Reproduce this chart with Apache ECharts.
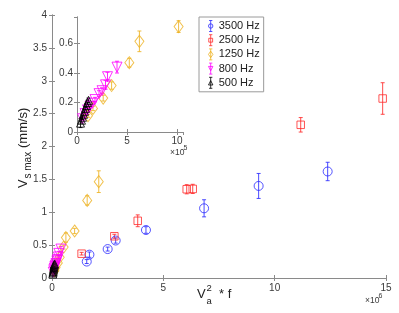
<!DOCTYPE html>
<html><head><meta charset="utf-8">
<script src="https://cdn.jsdelivr.net/npm/echarts@6/dist/echarts.min.js"></script>
<style>html,body{margin:0;padding:0;background:#fff}#c{width:399px;height:313px}</style>
</head><body><div id="c"></div><script>
// ---- data (x = Va^2 * f, y = Vs max in mm/s, e = error half-length) ----
const seriesNames = ['3500 Hz', '2500 Hz', '1250 Hz', '800 Hz', '500 Hz'];
const x3500 = [1.56e6, 1.68e6, 2.5e6, 2.86e6, 4.22e6, 6.83e6, 9.28e6, 12.38e6];
const y3500 = [0.25, 0.355, 0.44, 0.57, 0.73, 1.06, 1.40, 1.62];
const e3500 = [0.03, 0.04, 0.03, 0.04, 0.05, 0.13, 0.19, 0.14];
const x2500 = [1.33e6, 2.8e6, 3.85e6, 6.05e6, 6.32e6, 11.17e6, 14.85e6];
const y2500 = [0.37, 0.635, 0.87, 1.35, 1.355, 2.33, 2.73];
const e2500 = [0.02, 0.03, 0.09, 0.07, 0.07, 0.11, 0.24];
const x1250 = [1.1e5, 1.6e5, 2.62e5, 3.46e5, 5.23e5, 6.24e5, 10.16e5, 15.8e5, 21.0e5];
const y1250 = [0.11, 0.16, 0.23, 0.315, 0.47, 0.615, 0.715, 1.18, 1.465];
const e1250 = [0.01, 0.015, 0.02, 0.025, 0.03, 0.07, 0.04, 0.07, 0.165];
const x800 = [0.55e5, 0.8e5, 1.05e5, 1.3e5, 1.55e5, 1.8e5, 2.2e5, 2.5e5, 2.85e5, 3.05e5, 4.0e5];
const y800 = [0.09, 0.125, 0.15, 0.175, 0.195, 0.22, 0.26, 0.28, 0.32, 0.375, 0.44];
const e800 = [0.01, 0.01, 0.01, 0.01, 0.01, 0.015, 0.02, 0.02, 0.03, 0.03, 0.04];
const x500 = [0.35e5, 0.45e5, 0.55e5, 0.65e5, 0.75e5, 0.85e5, 0.95e5, 1.05e5, 1.15e5];
const y500 = [0.06, 0.08, 0.1, 0.12, 0.14, 0.16, 0.18, 0.2, 0.215];
const e500 = [0.03, 0.02, 0.015, 0.015, 0.015, 0.015, 0.015, 0.015, 0.015];
const mainXTicks = [0, 5, 10, 15];      // x 10^6
const mainYTicks = [0, 0.5, 1, 1.5, 2, 2.5, 3, 3.5, 4];
const insetXTicks = [0, 5, 10];         // x 10^5
const insetYTicks = [0, 0.2, 0.4, 0.6];

// ---- styling ----
const colors = ['#2b2bff', '#ff2a2a', '#EDB120', '#ff00ff', '#000000'];
const symbols = ['circle', 'rect', 'diamond', 'triangle', 'triangle'];
const rotates = [0, 0, 0, 180, 0];
const sizes = [9, 7.5, [9, 12], 10, 8];
const xs = [x3500, x2500, x1250, x800, x500];
const ys = [y3500, y2500, y1250, y800, y500];
const es = [e3500, e2500, e1250, e800, e500];
const bar = 'M5,0 L5,20 M2,0 L8,0 M2,20 L8,20 ';
const legendIcons = [
  'path://' + bar + 'M5,6 A4,4 0 1 1 5,14 A4,4 0 1 1 5,6 Z',
  'path://' + bar + 'M1.5,6.5 L8.5,6.5 L8.5,13.5 L1.5,13.5 Z',
  'path://' + bar + 'M5,4 L9,10 L5,16 L1,10 Z',
  'path://' + bar + 'M1,6 L9,6 L5,14 Z',
  'path://' + bar + 'M5,6 L9,14 L1,14 Z'
];

function pts(i) { return xs[i].map((x, k) => [x, ys[i][k], es[i][k]]); }

function errRender(color) {
  return function (params, api) {
    const x = api.value(0), y = api.value(1), e = api.value(2);
    const t = api.coord([x, y + e]), b = api.coord([x, y - e]);
    const cw = 2;
    const st = { stroke: color, lineWidth: 1, opacity: 0.85 };
    return { type: 'group', children: [
      { type: 'line', shape: { x1: t[0], y1: t[1], x2: b[0], y2: b[1] }, style: st },
      { type: 'line', shape: { x1: t[0] - cw, y1: t[1], x2: t[0] + cw, y2: t[1] }, style: st },
      { type: 'line', shape: { x1: b[0] - cw, y1: b[1], x2: b[0] + cw, y2: b[1] }, style: st }
    ] };
  };
}

const axisCol = '#8a8a8a', txtCol = '#3a3a3a';
const FONT = 'Liberation Sans, Arial, sans-serif';

const series = [];
// main plot
for (let i = 0; i < 5; i++) {
  series.push({ type: 'custom', name: seriesNames[i] + '_err', xAxisIndex: 0, yAxisIndex: 0, z: 3,
    renderItem: errRender(colors[i]), data: pts(i), clip: true, silent: true });
  series.push({ type: 'scatter', name: seriesNames[i], xAxisIndex: 0, yAxisIndex: 0, z: 3,
    symbol: symbols[i], symbolRotate: rotates[i], symbolSize: sizes[i],
    itemStyle: { color: 'rgba(255,255,255,0)', borderColor: colors[i], borderWidth: 1 },
    data: pts(i) });
}
// inset (only the low-frequency series fall in range)
for (let i = 2; i < 5; i++) {
  series.push({ type: 'custom', name: seriesNames[i] + '_ierr', xAxisIndex: 2, yAxisIndex: 2, z: 8,
    renderItem: errRender(colors[i]), data: pts(i), clip: true, silent: true });
  series.push({ type: 'scatter', name: seriesNames[i], xAxisIndex: 2, yAxisIndex: 2, z: 8,
    symbol: symbols[i], symbolRotate: rotates[i], symbolSize: sizes[i],
    itemStyle: { color: 'rgba(255,255,255,0)', borderColor: colors[i], borderWidth: 1 },
    data: pts(i), clip: true });
}

function isTick(list, v, scale) {
  return list.some(t => Math.abs(t * scale - v) < 1e-6 * Math.max(1, scale));
}

const baseAxis = {
  type: 'value', splitLine: { show: false },
  axisLine: { show: true, lineStyle: { color: axisCol, width: 1 } },
  axisTick: { show: true, inside: true, length: 3, lineStyle: { color: axisCol } },
  axisLabel: { color: txtCol, fontSize: 10, fontFamily: FONT }
};
function ax(o) { return Object.assign({}, JSON.parse(JSON.stringify(baseAxis)), o); }

const option = {
  animation: false,
  backgroundColor: '#fff',
  grid: [
    { left: 52, top: 15, width: 334, height: 263, z: 0 },
    { left: 77, top: 17, width: 106, height: 115, show: true, backgroundColor: '#fff', borderWidth: 0, z: 5 }
  ],
  xAxis: [
    ax({ gridIndex: 0, min: 0, max: 15e6, interval: 5e6, position: 'bottom',
      axisLabel: { color: txtCol, fontSize: 10, fontFamily: FONT, margin: 5,
        formatter: v => isTick(mainXTicks, v, 1e6) ? String(Math.round(v / 1e6)) : '' } }),
    ax({ gridIndex: 0, min: 0, max: 15e6, interval: 5e6, position: 'top', axisLabel: { show: false } }),
    ax({ gridIndex: 1, min: 0, max: 10.6e5, interval: 5e5, position: 'bottom', z: 6,
      axisLabel: { color: txtCol, fontSize: 10, fontFamily: FONT, margin: 4, showMaxLabel: false,
        formatter: v => isTick(insetXTicks, v, 1e5) ? String(Math.round(v / 1e5)) : '' } }),
    ax({ gridIndex: 1, min: 0, max: 10.6e5, interval: 5e5, position: 'top', z: 6, axisLabel: { show: false } })
  ],
  yAxis: [
    ax({ gridIndex: 0, min: 0, max: 4, interval: 0.5, position: 'left',
      axisLabel: { color: txtCol, fontSize: 10, fontFamily: FONT, margin: 5,
        formatter: v => isTick(mainYTicks, v, 1) ? String(+v.toFixed(2)) : '' } }),
    ax({ gridIndex: 0, min: 0, max: 4, interval: 0.5, position: 'right', axisLabel: { show: false } }),
    ax({ gridIndex: 1, min: 0, max: 0.78, interval: 0.2, position: 'left', z: 6,
      axisLabel: { color: txtCol, fontSize: 10, fontFamily: FONT, margin: 4, showMaxLabel: false,
        formatter: v => isTick(insetYTicks, v, 1) ? String(+v.toFixed(2)) : '' } }),
    ax({ gridIndex: 1, min: 0, max: 0.78, interval: 0.2, position: 'right', z: 6, axisLabel: { show: false } })
  ],
  legend: {
    orient: 'vertical', left: 199, top: 17, z: 20,
    padding: [3, 4, 3, 9], itemWidth: 6, itemHeight: 11, itemGap: 2.2,
    backgroundColor: '#fff', borderColor: '#9a9a9a', borderWidth: 1,
    textStyle: { fontSize: 11, color: '#222', fontFamily: FONT },
    data: seriesNames.map((n, i) => ({ name: n, icon: legendIcons[i],
      itemStyle: { color: 'rgba(255,255,255,0)', borderColor: colors[i], borderWidth: 1 } }))
  },
  graphic: [
    // y axis title: V_{s max} (mm/s)
    { type: 'group', x: 23, y: 188, rotation: Math.PI / 2, children: [
      { type: 'text', x: 0, y: 0, style: { text: 'V', fontSize: 13, fontFamily: FONT, fill: '#222', verticalAlign: 'middle' } },
      { type: 'text', x: 9.5, y: 5, style: { text: 's max', fontSize: 10, fontFamily: FONT, fill: '#222', verticalAlign: 'middle' } },
      { type: 'text', x: 40, y: 0, style: { text: '(mm/s)', fontSize: 13, fontFamily: FONT, fill: '#222', verticalAlign: 'middle' } }
    ] },
    // x axis title: V_a^2 * f
    { type: 'text', x: 197, y: 294, style: { text: 'V', fontSize: 13, fontFamily: FONT, fill: '#222', verticalAlign: 'middle' } },
    { type: 'text', x: 206.5, y: 288, style: { text: '2', fontSize: 9.5, fontFamily: FONT, fill: '#222', verticalAlign: 'middle' } },
    { type: 'text', x: 206.5, y: 301, style: { text: 'a', fontSize: 9.5, fontFamily: FONT, fill: '#222', verticalAlign: 'middle' } },
    { type: 'text', x: 219, y: 294, style: { text: '* f', fontSize: 13, fontFamily: FONT, fill: '#222', verticalAlign: 'middle' } },
    // exponent labels
    { type: 'text', x: 365, y: 301, style: { text: '\u00d710', fontSize: 8.5, fontFamily: FONT, fill: txtCol, verticalAlign: 'middle' } },
    { type: 'text', x: 378.5, y: 296, style: { text: '6', fontSize: 7, fontFamily: FONT, fill: txtCol, verticalAlign: 'middle' } },
    { type: 'text', x: 170, y: 153, z: 20, style: { text: '\u00d710', fontSize: 8.5, fontFamily: FONT, fill: txtCol, verticalAlign: 'middle' } },
    { type: 'text', x: 183.5, y: 148, z: 20, style: { text: '5', fontSize: 7, fontFamily: FONT, fill: txtCol, verticalAlign: 'middle' } }
  ],
  series: series
};

const chart = echarts.init(document.getElementById('c'), null, { renderer: 'canvas' });
chart.setOption(option);
</script></body></html>
